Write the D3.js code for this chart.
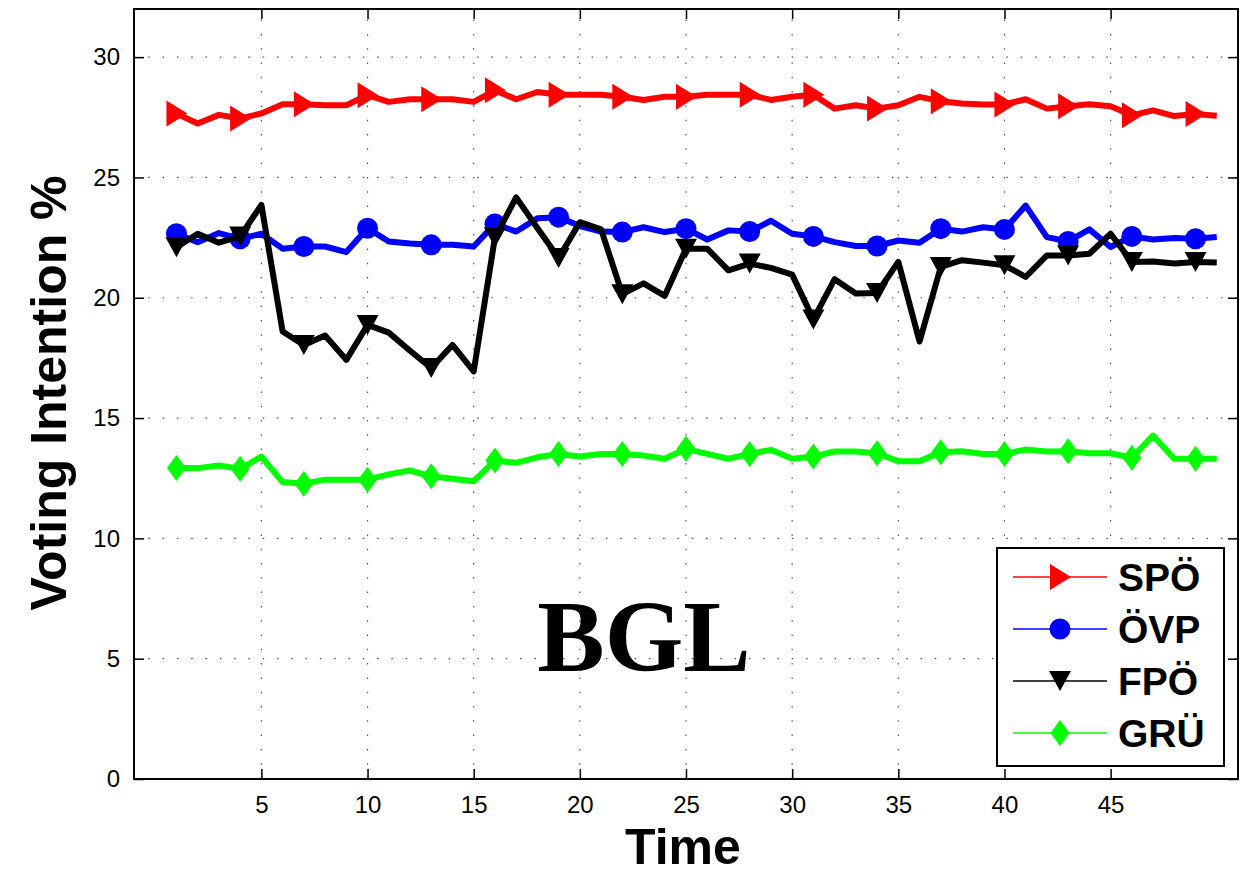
<!DOCTYPE html>
<meta charset="utf-8">
<style>
body { margin:0; background:#fff; }
text { font-family: "Liberation Sans", Arial, sans-serif; }
.tick text { font-size:24px; fill:#000; }
.grid line { stroke:#555; stroke-width:1.2; stroke-dasharray:1.5,12.8; }
.series path.line { fill:none; stroke-width:6; stroke-linejoin:round; }
.title { font-family:"Liberation Serif", "DejaVu Serif", serif; font-weight:bold; font-size:101px; text-anchor:middle; }
.lab { font-weight:bold; font-size:50px; text-anchor:middle; }
.leg text { font-weight:bold; font-size:39px; }
</style>
<body>
<script src="https://cdnjs.cloudflare.com/ajax/libs/d3/7.8.5/d3.min.js"></script>
<script>

var time = [1,2,3,4,5,6,7,8,9,10,11,12,13,14,15,16,17,18,19,20,21,22,23,24,25,
	26,27,28,29,30,31,32,33,34,35,36,37,38,39,40,41,42,43,44,45,46,47,48,49,50];
var markerTimes = [1,4,7,10,13,16,19,22,25,28,31,34,37,40,43,46,49];

var spo = [27.66,27.24,27.6,27.45,27.66,28.04,28.04,28.0,28.0,28.42,28.14,28.25,28.25,28.25,28.14,28.62,28.25,28.55,
	28.44,28.44,28.44,28.35,28.22,28.35,28.35,28.44,28.44,28.44,28.22,28.35,28.44,27.86,28.0,27.86,28.0,28.35,28.17,
	28.07,28.03,28.03,28.25,27.86,27.96,28.04,27.96,27.58,27.79,27.55,27.64,27.56];
var ovp = [22.66,22.31,22.69,22.45,22.66,22.04,22.13,22.13,21.9,22.89,22.34,22.25,22.2,22.2,22.13,23.07,22.75,23.3,
	23.35,22.98,22.75,22.73,22.93,22.73,22.87,22.42,22.8,22.75,23.2,22.66,22.55,22.31,22.15,22.15,22.38,22.29,22.87,
	22.75,22.93,22.84,23.83,22.52,22.34,22.84,22.11,22.55,22.42,22.48,22.45,22.52];
var fpo = [22.1,22.66,22.29,22.55,23.86,18.6,18.04,18.43,17.42,18.87,18.55,17.8,17.08,18.04,16.94,22.5,24.17,22.9,
	21.65,23.14,22.84,20.15,20.6,20.08,22.04,22.04,21.14,21.42,21.24,20.96,19.1,20.77,20.18,20.2,21.49,18.18,21.28,
	21.56,21.46,21.35,20.87,21.76,21.76,21.83,22.66,21.49,21.51,21.42,21.49,21.46];
var gru = [12.92,12.92,13.03,12.89,13.4,12.34,12.27,12.44,12.44,12.44,12.66,12.82,12.58,12.48,12.37,13.24,13.14,13.37,
	13.51,13.4,13.51,13.51,13.44,13.31,13.72,13.51,13.31,13.51,13.68,13.31,13.4,13.61,13.61,13.54,13.21,13.21,13.58,
	13.62,13.51,13.51,13.69,13.61,13.62,13.54,13.54,13.35,14.27,13.31,13.31,13.31];

var names = ["SPÖ","ÖVP","FPÖ","GRÜ"];
var colors = ["#ff0000","#0000ff","#000000","#00ff00"];
var shapes = ["right","circle","down","diamond"];
var xTicks = [5,10,15,20,25,30,35,40,45];
var yTicks = [0,5,10,15,20,25,30];

var W = 1253, H = 873;
var m = {left:134, right:1238, top:9, bottom:779};

var svg = d3.select("body").append("svg").attr("width",W).attr("height",H);

var x = d3.scaleLinear().domain([-1,51]).range([m.left,m.right]);
var y = d3.scaleLinear().domain([0,32]).range([m.bottom,m.top]);

// dotted grid
var grid = svg.append("g").attr("class","grid");
grid.selectAll(".gx").data(xTicks).enter().append("line")
	.attr("x1",d=>x(d)).attr("x2",d=>x(d)).attr("y1",m.bottom).attr("y2",m.top);
grid.selectAll(".gy").data(yTicks).enter().append("line")
	.attr("y1",d=>y(d)).attr("y2",d=>y(d)).attr("x1",m.left).attr("x2",m.right);

// axes, ticks pointing inward on all four sides
function styleAxis(g){
	g.select(".domain").remove();
	g.selectAll(".tick line").attr("stroke","#000").attr("stroke-width",1.5);
}
svg.append("g").attr("transform","translate(0,"+m.bottom+")")
	.call(d3.axisBottom(x).tickValues(xTicks).tickSizeInner(-10).tickSizeOuter(0).tickPadding(17))
	.call(styleAxis);
svg.append("g").attr("transform","translate(0,"+m.top+")")
	.call(d3.axisTop(x).tickValues(xTicks).tickSizeInner(-10).tickSizeOuter(0).tickFormat(""))
	.call(styleAxis);
svg.append("g").attr("transform","translate("+m.left+",0)")
	.call(d3.axisLeft(y).tickValues(yTicks).tickSizeInner(-10).tickSizeOuter(0).tickPadding(14))
	.call(styleAxis);
svg.append("g").attr("transform","translate("+m.right+",0)")
	.call(d3.axisRight(y).tickValues(yTicks).tickSizeInner(-10).tickSizeOuter(0).tickFormat(""))
	.call(styleAxis);

svg.append("rect").attr("x",m.left).attr("y",m.top)
	.attr("width",m.right-m.left).attr("height",m.bottom-m.top)
	.attr("fill","none").attr("stroke","#000").attr("stroke-width",2);

// marker shapes
function marker(shape){
	if(shape=="right") return "M-10,-13L11,0L-10,13Z";
	if(shape=="down") return "M-11,-10L11,-10L0,10Z";
	if(shape=="diamond") return "M0,-13L9.5,0L0,13L-9.5,0Z";
	return d3.symbol().type(d3.symbolCircle).size(Math.PI*10.5*10.5)();
}

var seriesVals = [spo,ovp,fpo,gru];
var line = d3.line().x(d=>x(d.t)).y(d=>y(d.v));

seriesVals.forEach(function(vals,i){
	var pts = time.map((t,j)=>({t:t,v:vals[j]}));
	var g = svg.append("g").attr("class","series");
	g.append("path").attr("class","line").datum(pts)
		.attr("d",line).attr("stroke",colors[i]);
	g.selectAll(".mk").data(pts.filter(p=>markerTimes.indexOf(p.t)>=0)).enter().append("path")
		.attr("transform",d=>"translate("+x(d.t)+","+y(d.v)+")")
		.attr("d",marker(shapes[i])).attr("fill",colors[i]);
});

// labels
svg.append("text").attr("class","lab").attr("x",683).attr("y",864).text("Time");
svg.append("text").attr("class","lab")
	.attr("transform","translate(66,393) rotate(-90)").text("Voting Intention %");
svg.append("text").attr("class","title").attr("x",644).attr("y",671).text("BGL");

// legend
var leg = svg.append("g").attr("class","leg");
leg.append("rect").attr("x",997).attr("y",548).attr("width",227).attr("height",218)
	.attr("fill","#fff").attr("stroke","#000").attr("stroke-width",2);
var ly = d3.scalePoint().domain(names).range([577,733]);
names.forEach(function(n,i){
	leg.append("line").attr("x1",1013).attr("x2",1107).attr("y1",ly(n)).attr("y2",ly(n))
		.attr("stroke",colors[i]).attr("stroke-width",1.5);
	leg.append("path").attr("transform","translate(1060,"+ly(n)+")")
		.attr("d",marker(shapes[i])).attr("fill",colors[i]);
	leg.append("text").attr("x",1118).attr("y",ly(n)+14).text(n);
});

</script>
</body>
